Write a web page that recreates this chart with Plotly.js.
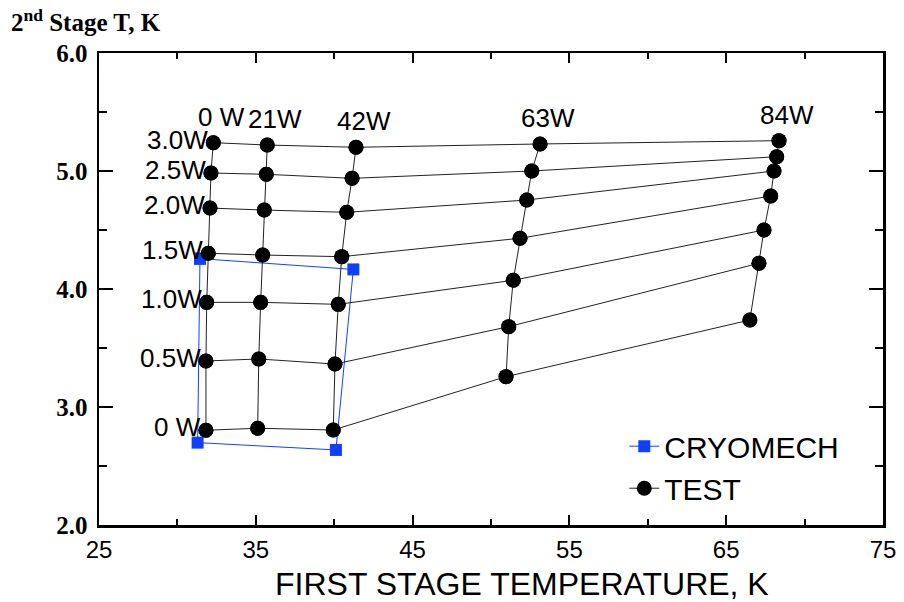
<!DOCTYPE html>
<html>
<head>
<meta charset="utf-8">
<script src="https://cdn.plot.ly/plotly-3.0.1.min.js"></script>
<style>html,body{margin:0;padding:0;background:#fff;}#chart{width:904px;height:602px;}</style>
</head>
<body>
<div id="chart"></div>
<script>
// First-stage heat load columns and second-stage heat load rows
var firstStageLoads = ['0 W', '21W', '42W', '63W', '84W'];
var secondStageLoads = ['0 W', '0.5W', '1.0W', '1.5W', '2.0W', '2.5W', '3.0W'];

// TEST: first-stage temperature (K), one list per first-stage load, rows 0 W .. 3.0W
var testT1_0W  = [31.82, 31.82, 31.87, 31.97, 32.08, 32.14, 32.29];
var testT1_21W = [35.12, 35.19, 35.31, 35.44, 35.54, 35.67, 35.73];
var testT1_42W = [39.94, 40.05, 40.26, 40.48, 40.80, 41.14, 41.39];
var testT1_63W = [50.96, 51.13, 51.42, 51.85, 52.28, 52.60, 53.13];
var testT1_84W = [66.51, 67.09, 67.41, 67.84, 68.05, 68.22, 68.37];

// TEST: second-stage temperature (K)
var testT2_0W  = [2.803, 3.390, 3.887, 4.303, 4.686, 4.983, 5.240];
var testT2_21W = [2.820, 3.407, 3.887, 4.288, 4.669, 4.972, 5.220];
var testT2_42W = [2.805, 3.364, 3.870, 4.274, 4.650, 4.938, 5.201];
var testT2_63W = [3.257, 3.681, 4.074, 4.430, 4.754, 5.000, 5.229];
var testT2_84W = [3.737, 4.218, 4.500, 4.788, 5.000, 5.121, 5.257];

// CRYOMECH capacity map corners (closed outline)
var cryoT1 = [31.44, 41.22, 40.11, 31.29, 31.44];
var cryoT2 = [4.257, 4.166, 2.636, 2.698, 4.257];

// Axis ticks
var xTicks = [25, 35, 45, 55, 65, 75];
var yTicks = [2.0, 3.0, 4.0, 5.0, 6.0];
var yTickLabels = ['2.0', '3.0', '4.0', '5.0', '6.0'];

var T1 = [testT1_0W, testT1_21W, testT1_42W, testT1_63W, testT1_84W];
var T2 = [testT2_0W, testT2_21W, testT2_42W, testT2_63W, testT2_84W];

// Build grid: rows (constant second-stage load) then columns (constant first-stage load)
var gx = [], gy = [];
for (var r = 0; r < secondStageLoads.length; r++) {
  for (var c = 0; c < firstStageLoads.length; c++) { gx.push(T1[c][r]); gy.push(T2[c][r]); }
  gx.push(null); gy.push(null);
}
for (var c2 = 0; c2 < firstStageLoads.length; c2++) {
  for (var r2 = 0; r2 < secondStageLoads.length; r2++) { gx.push(T1[c2][r2]); gy.push(T2[c2][r2]); }
  gx.push(null); gy.push(null);
}

var sans = 'Liberation Sans, Arial, sans-serif';
var serif = 'Liberation Serif, Times New Roman, serif';

var traces = [
  {
    x: cryoT1, y: cryoT2, name: 'CRYOMECH', type: 'scatter', mode: 'lines+markers',
    line: {color: '#1040ff', width: 1},
    marker: {symbol: 'square', size: 12, color: '#1040ff'}
  },
  {
    x: gx, y: gy, name: 'TEST', type: 'scatter', mode: 'lines+markers',
    connectgaps: false,
    line: {color: '#222222', width: 1},
    marker: {symbol: 'circle', size: 15, color: '#000000'}
  }
];

var annotations = [];
var topRow = secondStageLoads.length - 1;
// Column labels above top row
for (var i = 0; i < firstStageLoads.length; i++) {
  annotations.push({
    x: T1[i][topRow], y: T2[i][topRow], xref: 'x', yref: 'y',
    text: firstStageLoads[i], showarrow: false,
    xanchor: 'center', yanchor: 'bottom', xshift: 8, yshift: 9,
    font: {family: sans, size: 26, color: '#000'}
  });
}
// Row labels left of first column
for (var j = 0; j < secondStageLoads.length; j++) {
  annotations.push({
    x: T1[0][j], y: T2[0][j], xref: 'x', yref: 'y',
    text: secondStageLoads[j], showarrow: false,
    xanchor: 'right', yanchor: 'middle', xshift: -3, yshift: 3,
    font: {family: sans, size: 26, color: '#000'}
  });
}
// X-axis title
annotations.push({
  x: 0.539, y: -0.125, xref: 'paper', yref: 'paper',
  text: 'FIRST STAGE TEMPERATURE, K', showarrow: false,
  xanchor: 'center', yanchor: 'middle',
  font: {family: sans, size: 32, color: '#000'}
});

var layout = {
  width: 904, height: 602,
  margin: {l: 99, r: 21, t: 53, b: 77},
  paper_bgcolor: '#fff', plot_bgcolor: '#fff',
  title: {
    text: '2<sup>nd</sup> Stage T, K',
    x: 11 / 904, xref: 'container', xanchor: 'left',
    y: 0.977, yref: 'container', yanchor: 'top',
    font: {family: serif, size: 25, weight: 'bold', color: '#000'}
  },
  showlegend: true,
  legend: {
    x: 0.67, y: 0.222, xanchor: 'left', yanchor: 'top',
    bgcolor: 'rgba(0,0,0,0)', borderwidth: 0,
    font: {family: sans, size: 30, color: '#000'},
    traceorder: 'normal'
  },
  xaxis: {
    range: [25, 75], tickvals: xTicks, ticktext: xTicks.map(String),
    ticks: 'inside', ticklen: 10, tickwidth: 2, tickcolor: '#000',
    minor: {dtick: 5, tick0: 25, ticks: 'inside', ticklen: 6, tickwidth: 2, tickcolor: '#000'},
    showline: true, linecolor: '#000', linewidth: 2.5, mirror: 'ticks',
    showgrid: false, zeroline: false,
    tickfont: {family: sans, size: 24, color: '#000'},
    ticklabelstandoff: 2
  },
  yaxis: {
    range: [2, 6], tickvals: yTicks, ticktext: yTickLabels,
    ticks: 'inside', ticklen: 14, tickwidth: 2, tickcolor: '#000',
    minor: {dtick: 0.5, tick0: 2, ticks: 'inside', ticklen: 8, tickwidth: 2, tickcolor: '#000'},
    showline: true, linecolor: '#000', linewidth: 2.5, mirror: 'ticks',
    showgrid: false, zeroline: false,
    tickfont: {family: serif, size: 25, weight: 'bold', color: '#000'},
    ticklabelstandoff: 4
  },
  annotations: annotations
};

Plotly.newPlot('chart', traces, layout, {displayModeBar: false, staticPlot: true});
</script>
</body>
</html>
